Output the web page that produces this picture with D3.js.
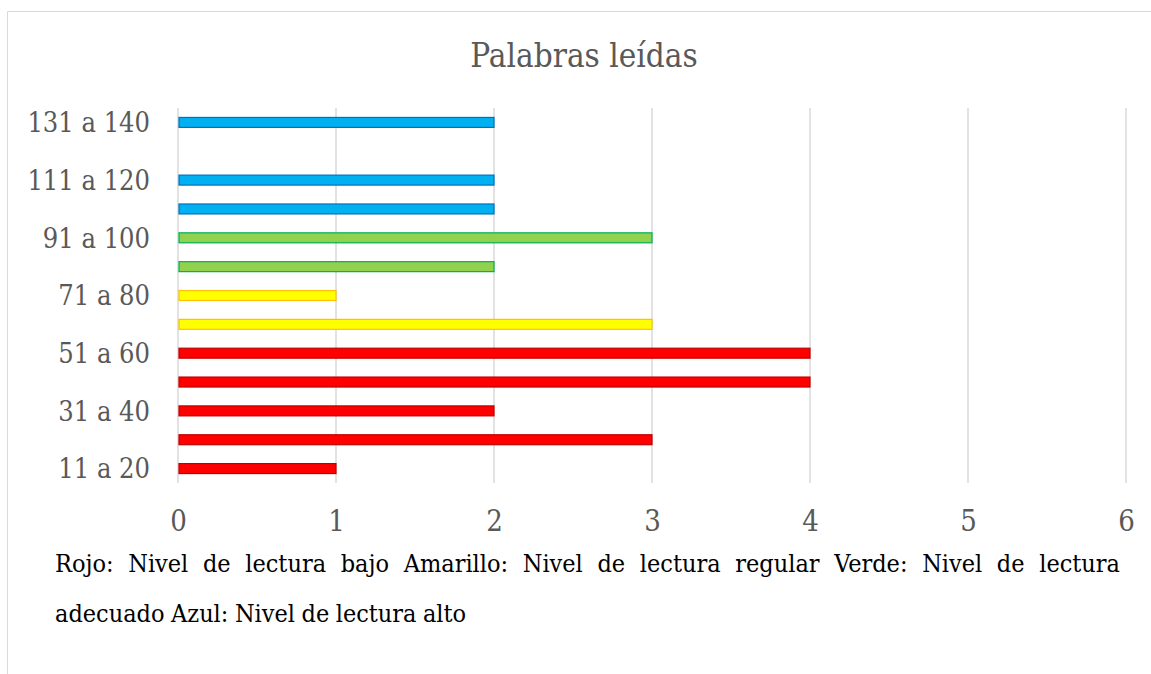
<!DOCTYPE html>
<html>
<head>
<meta charset="utf-8">
<script src="https://cdn.jsdelivr.net/npm/d3@7"></script>
<style>
  body { margin: 0; background: #fff; }
  svg { display: block; }
  svg text { font-family: "DejaVu Serif Condensed", "DejaVu Serif", serif; font-stretch: condensed; }
</style>
</head>
<body>
<svg id="chart" width="1151" height="674"></svg>
<script>
// data
var categories = ["11 a 20", "21 a 30", "31 a 40", "41 a 50", "51 a 60", "61 a 70", "71 a 80",
                  "81 a 90", "91 a 100", "101 a 110", "111 a 120", "121 a 130", "131 a 140"];
var values = [1, 3, 2, 4, 4, 3, 1, 2, 3, 2, 2, 0, 2];
var levels = ["bajo", "bajo", "bajo", "bajo", "bajo", "regular", "regular",
              "adecuado", "adecuado", "alto", "alto", "alto", "alto"];
var xTicks = [0, 1, 2, 3, 4, 5, 6];
var title = "Palabras leídas";
var noteLines = [
  "Rojo: Nivel de lectura bajo Amarillo: Nivel de lectura regular Verde: Nivel de lectura",
  "adecuado Azul: Nivel de lectura alto"
];

var fills = {bajo: "#ff0000", regular: "#ffff00", adecuado: "#92d050", alto: "#00b0f0"},
    strokes = {bajo: "#c00000", regular: "#ffc000", adecuado: "#00b050", alto: "#0070c0"};

var svg = d3.select("#chart"),
    margin = {top: 108, right: 25, bottom: 191, left: 178},
    width = +svg.attr("width") - margin.left - margin.right,
    height = +svg.attr("height") - margin.top - margin.bottom;

// chart frame (only top and left edges are visible)
svg.append("path")
    .attr("d", "M7.5,674V11.5H1151")
    .attr("fill", "none")
    .attr("stroke", "#d9d9d9")
    .attr("stroke-width", 1);

var x = d3.scaleLinear().domain([0, 6]).range([0, width]),
    y = d3.scaleBand().domain(categories).range([height, 0]).paddingInner(0.62).paddingOuter(0.31);

var g = svg.append("g")
    .attr("transform", "translate(" + margin.left + "," + margin.top + ")");

// vertical gridlines
g.selectAll(".grid")
    .data(xTicks)
  .enter().append("line")
    .attr("class", "grid")
    .attr("x1", function(d) { return x(d); })
    .attr("x2", function(d) { return x(d); })
    .attr("y1", 0)
    .attr("y2", height)
    .attr("stroke", "#d9d9d9")
    .attr("stroke-width", 1.5);

// bars
g.selectAll(".bar")
    .data(values)
  .enter().append("rect")
    .attr("class", "bar")
    .attr("x", x(0) + 1)
    .attr("y", function(d, i) { return y(categories[i]) + 0.5; })
    .attr("width", function(d) { return Math.max(0, x(d) - x(0) - 1); })
    .attr("height", y.bandwidth() - 1)
    .attr("fill", function(d, i) { return fills[levels[i]]; })
    .attr("stroke", function(d, i) { return strokes[levels[i]]; })
    .attr("stroke-width", function(d) { return d > 0 ? 1.2 : 0; });

// x axis labels
var xAxis = g.append("g")
    .attr("transform", "translate(0," + height + ")")
    .call(d3.axisBottom(x).tickValues(xTicks).tickSize(0).tickPadding(27).tickFormat(d3.format("d")));
xAxis.select(".domain").remove();
xAxis.attr("font-family", null).attr("font-size", null);
xAxis.selectAll("text")
    .attr("fill", "#595959")
    .style("font-size", "29px");

// y axis labels, every other category
var yAxis = g.append("g")
    .call(d3.axisLeft(y)
      .tickValues(categories.filter(function(d, i) { return i % 2 === 0; }))
      .tickSize(0).tickPadding(28));
yAxis.select(".domain").remove();
yAxis.attr("font-family", null).attr("font-size", null);
yAxis.selectAll("text")
    .attr("fill", "#595959")
    .attr("dy", "0.36em")
    .style("font-size", "27px");

// title
svg.append("text")
    .attr("x", 584)
    .attr("y", 67)
    .attr("text-anchor", "middle")
    .attr("fill", "#595959")
    .style("font-size", "33px")
    .text(title);

// note below the chart, first line justified
var noteLeft = 55, noteRight = 1120, noteBase = [572, 622];
noteLines.forEach(function(line, li) {
  var words = line.split(" ");
  var t = svg.append("g").selectAll("text")
      .data(words)
    .enter().append("text")
      .attr("y", noteBase[li])
      .attr("fill", "#000")
      .style("font-size", "25px")
      .text(function(d) { return d; });
  var widths = [];
  t.each(function() { widths.push(this.getComputedTextLength()); });
  var total = d3.sum(widths);
  var gap = li === 0 ? (noteRight - noteLeft - total) / (words.length - 1) : 6.5;
  var pos = noteLeft;
  t.attr("x", function(d, i) { var p = pos; pos += widths[i] + gap; return p; });
});
</script>
</body>
</html>
